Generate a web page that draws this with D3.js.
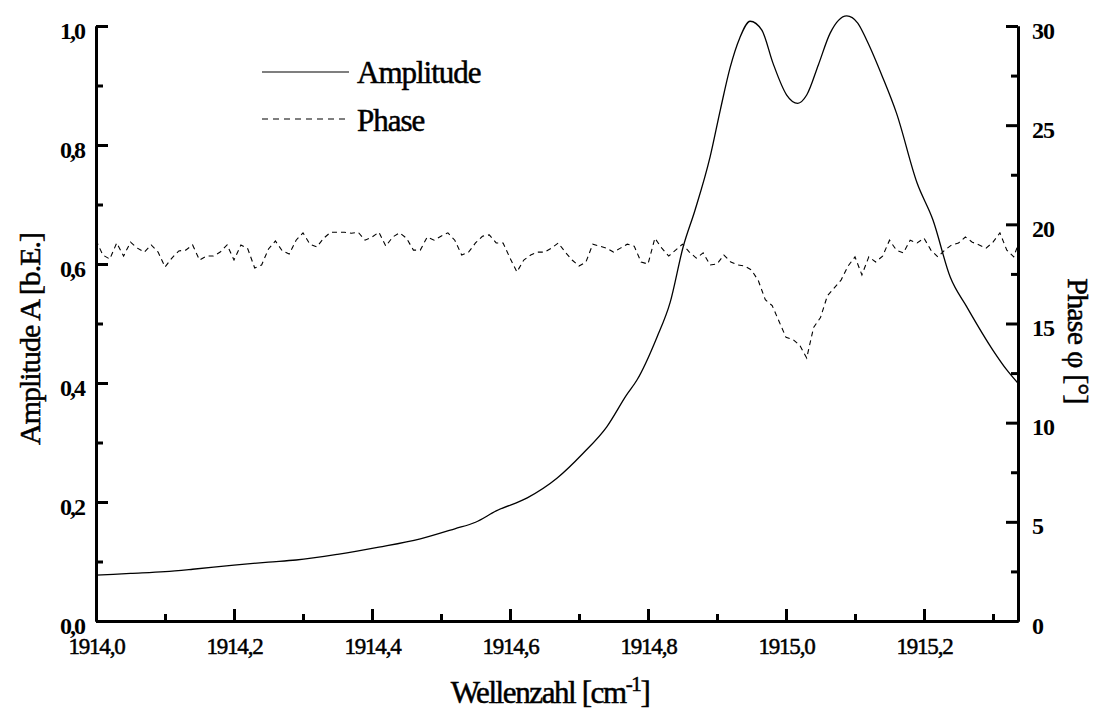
<!DOCTYPE html>
<html><head><meta charset="utf-8">
<script src="https://cdn.jsdelivr.net/npm/d3@7"></script>
<style>
body{margin:0;background:#fff;}
svg{display:block;}
text{font-family:"Liberation Serif","Times New Roman",serif;fill:#000;}
</style></head>
<body>
<svg id="chart" width="1095" height="709"></svg>
<script>
// ---- data ----
const ampX = [1914.00,1914.05,1914.10,1914.14,1914.20,1914.25,1914.29,1914.35,1914.41,1914.47,1914.52,1914.55,1914.58,1914.625,1914.668,1914.706,1914.74,1914.769,1914.784,1914.813,1914.832,1914.851,1914.868,1914.89,1914.905,1914.919,1914.933,1914.948,1914.965,1914.981,1915.001,1915.017,1915.03,1915.047,1915.064,1915.088,1915.104,1915.117,1915.14,1915.16,1915.19,1915.213,1915.238,1915.262,1915.30,1915.32,1915.336];
const ampY = [0.077,0.080,0.083,0.087,0.094,0.099,0.1025,0.112,0.124,0.138,0.155,0.166,0.185,0.207,0.240,0.282,0.326,0.380,0.405,0.477,0.535,0.629,0.690,0.780,0.860,0.930,0.980,1.008,0.993,0.938,0.884,0.870,0.884,0.935,0.988,1.017,1.005,0.976,0.914,0.854,0.736,0.674,0.578,0.528,0.455,0.422,0.400];
const phaseStart = 1914.00, phaseStep = 0.01;
const phaseY = [19.2,18.45,18.25,19.06,18.4,19.1,18.8,18.6,18.96,18.6,17.85,18.3,18.66,18.7,18.96,18.2,18.4,18.4,18.6,18.96,18.2,18.96,18.76,17.8,17.95,18.76,19.16,18.66,18.5,19.2,19.57,19.0,18.86,19.3,19.6,19.6,19.6,19.55,19.6,19.2,19.36,19.6,18.9,19.36,19.57,19.3,18.7,18.7,19.36,19.2,19.4,19.57,19.2,18.45,18.6,19.06,19.4,19.47,19.06,19.06,18.3,17.6,18.2,18.45,18.6,18.6,18.8,19.06,18.6,18.2,17.9,18.1,19.0,18.9,18.8,18.6,18.8,19.0,18.9,18.1,18.0,19.3,18.8,18.4,18.7,19.0,18.6,18.3,18.56,17.95,18.0,18.45,18.1,17.95,17.9,17.7,17.15,16.2,15.9,15.1,14.3,14.2,13.9,13.26,14.8,15.3,16.4,16.8,17.2,17.9,18.36,17.45,18.36,18.1,18.4,19.2,18.7,18.56,19.2,19.06,19.3,18.7,18.36,18.7,18.96,19.06,19.36,19.1,18.96,18.8,19.1,19.57,18.7,18.36,18.96];
const xMajor = [1914.0,1914.2,1914.4,1914.6,1914.8,1915.0,1915.2];
const xMinor = [1914.1,1914.3,1914.5,1914.7,1914.9,1915.1,1915.3];
const yMajor = [0.0,0.2,0.4,0.6,0.8,1.0];
const yMinor = [0.1,0.3,0.5,0.7,0.9];
const y2Major = [0,5,10,15,20,25,30];
const y2Minor = [2.5,7.5,12.5,17.5,22.5,27.5];
const seriesNames = ["Amplitude","Phase"];

// ---- layout ----
const L = 96, R = 1018, T = 26, B = 621;
const svg = d3.select("#chart");
const x = d3.scaleLinear().domain([1914.0, 1914.0 + (R - L) / 690]).range([L, R]);
const y = d3.scaleLinear().domain([0, 1]).range([B, T]);
const y2 = d3.scaleLinear().domain([0, 30]).range([B, T]);
const fmt = d => d3.format(".1f")(d).replace(".", ",");

// lines
const ampData = ampX.map((v, i) => [v, ampY[i]]);
const phData = phaseY.map((v, i) => [phaseStart + i * phaseStep, v]);
const phPoints = phData.filter(d => d[0] <= x.domain()[1] + 1e-9);
phPoints.push([x.domain()[1], phaseY[phaseY.length - 1]]);

svg.append("path").datum(phPoints)
  .attr("fill", "none").attr("stroke", "#000").attr("stroke-width", 1.1)
  .attr("stroke-dasharray", "5,4")
  .attr("d", d3.line().x(d => x(d[0])).y(d => y2(d[1])));

svg.append("path").datum(ampData)
  .attr("fill", "none").attr("stroke", "#000").attr("stroke-width", 1.3)
  .attr("d", d3.line().curve(d3.curveMonotoneX).x(d => x(d[0])).y(d => y(d[1])));

// axes
function styleAxis(g) {
  g.selectAll("path.domain").attr("stroke", "#000").attr("stroke-width", 3);
  g.selectAll("line").attr("stroke", "#000").attr("stroke-width", 3);
}
// minor
svg.append("g").attr("transform", `translate(0,${B})`)
  .call(d3.axisBottom(x).tickValues(xMinor).tickSize(-7).tickSizeOuter(0).tickFormat(""))
  .call(styleAxis);
svg.append("g").attr("transform", `translate(${L},0)`)
  .call(d3.axisLeft(y).tickValues(yMinor).tickSize(-7).tickSizeOuter(0).tickFormat(""))
  .call(styleAxis);
svg.append("g").attr("transform", `translate(${R},0)`)
  .call(d3.axisRight(y2).tickValues(y2Minor).tickSize(-7).tickSizeOuter(0).tickFormat(""))
  .call(styleAxis);
// major
const gx = svg.append("g").attr("transform", `translate(0,${B})`)
  .call(d3.axisBottom(x).tickValues(xMajor).tickSize(-12).tickSizeOuter(0).tickPadding(0).tickFormat(fmt))
  .call(styleAxis);
gx.selectAll("text").attr("dy", null).attr("y", 33)
  .attr("font-size", 23).attr("letter-spacing", -1.2).attr("stroke", "#000").attr("stroke-width", 0.5)
  .attr("font-family", "Liberation Serif").attr("fill","#000");

const gy = svg.append("g").attr("transform", `translate(${L},0)`)
  .call(d3.axisLeft(y).tickValues(yMajor).tickSize(-12).tickSizeOuter(0).tickPadding(12).tickFormat(fmt))
  .call(styleAxis);
gy.selectAll("text").attr("dy", "0.5em")
  .attr("font-size", 24).attr("font-weight", "bold").attr("letter-spacing", -2).attr("font-family", "Liberation Serif").attr("fill","#000");

const gy2 = svg.append("g").attr("transform", `translate(${R},0)`)
  .call(d3.axisRight(y2).tickValues(y2Major).tickSize(-12).tickSizeOuter(0).tickPadding(14).tickFormat(d3.format("d")))
  .call(styleAxis);
gy2.selectAll("text").attr("dy", "0.5em")
  .attr("font-size", 24).attr("font-weight", "bold").attr("letter-spacing", -1).attr("font-family", "Liberation Serif").attr("fill","#000");

// axis titles
const xt = svg.append("text").attr("x", 550).attr("y", 703).attr("text-anchor", "middle")
  .attr("font-size", 31).attr("letter-spacing", -1.4).attr("stroke", "#000").attr("stroke-width", 0.5);
xt.append("tspan").text("Wellenzahl [cm");
xt.append("tspan").attr("font-size", 21).attr("dy", -12).text("-1");
xt.append("tspan").attr("dy", 12).text("]");

svg.append("text").attr("transform", "translate(40,339) rotate(-90)").attr("text-anchor", "middle")
  .attr("font-size", 30).attr("letter-spacing", -1).attr("stroke", "#000").attr("stroke-width", 0.5)
  .text("Amplitude A [b.E.]");

svg.append("text").attr("transform", "translate(1068,341) rotate(90)").attr("text-anchor", "middle")
  .attr("font-size", 30).attr("letter-spacing", -0.8).attr("stroke", "#000").attr("stroke-width", 0.5)
  .text("Phase \u03C6 [\u00B0]");

// legend
const leg = svg.append("g");
const legItems = [{name: seriesNames[0], dash: null, ly: 72, ty: 83},
                  {name: seriesNames[1], dash: "6,5", ly: 119, ty: 131}];
legItems.forEach(it => {
  leg.append("line").attr("x1", 262).attr("x2", 349).attr("y1", it.ly).attr("y2", it.ly)
    .attr("stroke", "#000").attr("stroke-width", 1.2).attr("stroke-dasharray", it.dash);
  leg.append("text").attr("x", 357).attr("y", it.ty).attr("font-size", 31)
    .attr("letter-spacing", -1).attr("stroke", "#000").attr("stroke-width", 0.5).text(it.name);
});
</script>
</body></html>
